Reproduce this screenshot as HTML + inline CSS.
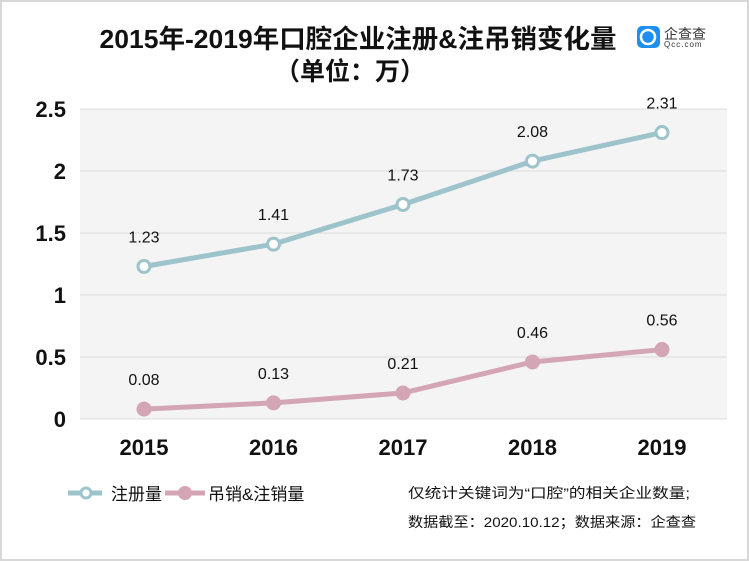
<!DOCTYPE html>
<html><head><meta charset="utf-8"><style>
body{margin:0;background:#fff;}
svg{display:block;font-family:"Liberation Sans","Noto Sans CJK SC",sans-serif;}
</style></head><body>
<svg width="749" height="561" viewBox="0 0 749 561">
<rect x="1" y="1" width="747" height="559" fill="#fff" stroke="#d8d8d8" stroke-width="2"/>
<text x="358" y="48" text-anchor="middle" font-size="26" font-weight="bold" fill="#111" textLength="517" lengthAdjust="spacingAndGlyphs">2015年-2019年口腔企业注册&amp;注吊销变化量</text>
<text x="350" y="80" text-anchor="middle" font-size="25" font-weight="bold" fill="#111">（单位：万）</text>
<g>
<rect x="637" y="26" width="23" height="22" rx="5" fill="#1e8ef0"/>
<circle cx="648" cy="37" r="7" fill="none" stroke="#fff" stroke-width="2.5"/>
<text x="664" y="39" font-size="14" fill="#333">企查查</text>
<text x="664" y="47" font-size="8" fill="#333" letter-spacing="1">Qcc.com</text>
</g>
<rect x="80" y="109" width="647" height="310" fill="#f4f4f4"/>
<g id="grid"></g><g id="ylab"></g><g id="xlab"></g><g id="series"></g>
<g>
<g>
<line x1="68" y1="493" x2="102" y2="493" stroke="#9dc3cb" stroke-width="5"/>
<circle cx="86" cy="493" r="5" fill="#fff" stroke="#9dc3cb" stroke-width="3"/>
<text x="111" y="500" font-size="17" fill="#111">注册量</text></g>
<g>
<line x1="165" y1="493" x2="205" y2="493" stroke="#d4a5b5" stroke-width="5"/>
<circle cx="185" cy="493" r="7" fill="#d4a5b5"/>
<text x="208" y="500" font-size="17" fill="#111">吊销&amp;注销量</text></g>
</g>
<text x="408" y="498" font-size="14" fill="#111" textLength="282" lengthAdjust="spacingAndGlyphs">仅统计关键词为“口腔”的相关企业数量;</text>
<text x="408" y="527" font-size="14" fill="#111" textLength="288" lengthAdjust="spacingAndGlyphs">数据截至：2020.10.12；数据来源：企查查</text>
</svg>
<script>
const categories=["2015","2016","2017","2018","2019"];
const registered=[1.23,1.41,1.73,2.08,2.31];
const revoked=[0.08,0.13,0.21,0.46,0.56];
const yTicks=[0,0.5,1,1.5,2,2.5];
const yTickLabels=["0","0.5","1","1.5","2","2.5"];
const NS="http://www.w3.org/2000/svg";
const xS=i=>144+i*129.5;
const yS=v=>419-v*124;
function mk(t,a,p){const e=document.createElementNS(NS,t);for(const k in a)e.setAttribute(k,a[k]);p.appendChild(e);return e;}
const grid=document.getElementById('grid'),ylab=document.getElementById('ylab'),xlab=document.getElementById('xlab'),ser=document.getElementById('series');
yTicks.forEach((v,i)=>{
const l=mk('line',{x1:80,x2:727,y1:yS(v),y2:yS(v),stroke:'#dcdcdc','stroke-width':1},grid);


const t=mk('text',{x:66,y:yS(v)+8,'text-anchor':'end','font-size':22,'font-weight':'bold',fill:'#111'},ylab);
t.textContent=yTickLabels[i];


});
categories.forEach((c,i)=>{
const t=mk('text',{x:xS(i),y:455,'text-anchor':'middle','font-size':22,'font-weight':'bold',fill:'#111'},xlab);
t.textContent=c;


});
function series(vals,color,hollow,name){
const g=mk('g',{},ser);


const p=mk('polyline',{points:vals.map((v,i)=>xS(i)+','+yS(v)).join(' '),fill:'none',stroke:color,'stroke-width':5,'stroke-linejoin':'round'},g);


vals.forEach((v,i)=>{
const c=hollow?mk('circle',{cx:xS(i),cy:yS(v),r:6,fill:'#fff',stroke:color,'stroke-width':3},g):mk('circle',{cx:xS(i),cy:yS(v),r:7.5,fill:color},g);


const t=mk('text',{x:xS(i),y:yS(v)-24,'text-anchor':'middle','font-size':16,fill:'#111'},g);
t.textContent=v.toFixed(2);


});
}
series(registered,'#9dc3cb',true,'registered');
series(revoked,'#d4a5b5',false,'revoked');
</script>
</body></html>
